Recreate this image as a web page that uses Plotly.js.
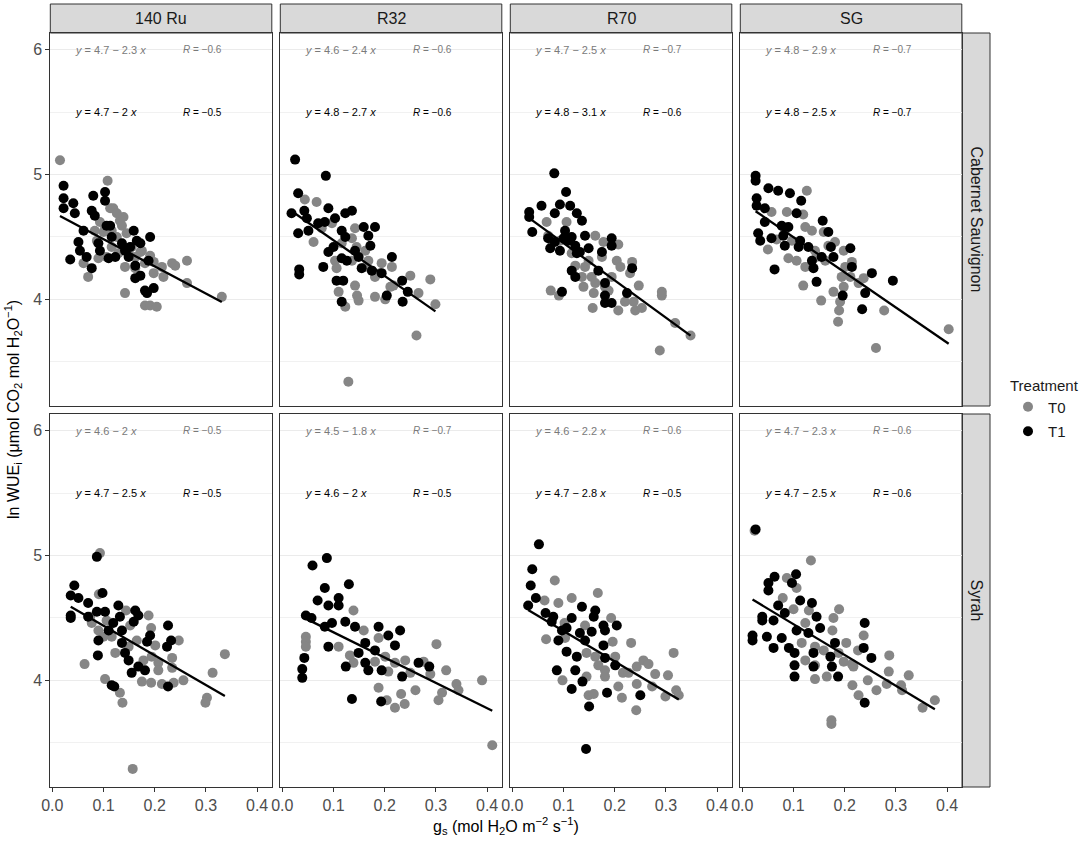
<!DOCTYPE html>
<html>
<head>
<meta charset="utf-8">
<script src="https://cdn.plot.ly/plotly-3.0.1.min.js"></script>
<style>
html,body{margin:0;padding:0;background:#fff;}
#plot{width:1084px;height:841px;}
</style>
</head>
<body>
<div id="plot"></div>
<script>
// ---------------- DATA ----------------
const rootstocks = ['140 Ru', 'R32', 'R70', 'SG'];
const cultivars = ['Cabernet Sauvignon', 'Syrah'];
const treatments = ['T0', 'T1'];
const xTickVals = [0, 0.1, 0.2, 0.3, 0.4];
const xTickText = ['0.0', '0.1', '0.2', '0.3', '0.4'];
const yTickVals = [4, 5, 6];
const yTickText = ['4', '5', '6'];

// Cabernet Sauvignon
const cs_140Ru_T0_x = [0.015,0.108,0.113,0.119,0.132,0.136,0.093,0.100,0.083,0.126,0.145,0.090,0.061,0.070,0.106,0.142,0.142,0.162,0.172,0.191,0.198,0.198,0.217,0.234,0.240,0.263,0.263,0.331,0.181,0.191,0.204,0.149,0.162,0.116,0.129,0.181,0.214,0.175,0.155,0.116,0.087,0.139,0.126,0.103];
const cs_140Ru_T0_y = [5.115,4.95,4.73,4.73,4.63,4.59,4.62,4.54,4.55,4.50,4.53,4.33,4.29,4.18,4.34,4.26,4.05,4.25,4.38,4.35,4.30,4.21,4.18,4.29,4.27,4.31,4.13,4.02,3.95,3.95,3.94,4.39,4.34,4.55,4.37,4.29,4.26,4.39,4.42,4.42,4.47,4.66,4.69,4.58];
const cs_140Ru_T1_x = [0.022,0.022,0.022,0.041,0.044,0.080,0.103,0.103,0.077,0.083,0.106,0.113,0.061,0.051,0.054,0.035,0.067,0.077,0.093,0.110,0.123,0.136,0.159,0.165,0.172,0.152,0.149,0.162,0.191,0.162,0.172,0.181,0.185,0.198,0.142,0.116,0.090,0.188];
const cs_140Ru_T1_y = [4.91,4.81,4.73,4.77,4.69,4.83,4.86,4.79,4.71,4.67,4.59,4.59,4.55,4.46,4.39,4.32,4.34,4.25,4.39,4.33,4.34,4.45,4.55,4.47,4.45,4.42,4.34,4.27,4.50,4.17,4.19,4.07,4.05,4.09,4.39,4.50,4.45,4.31];

const cs_R32_T0_x = [0.044,0.067,0.061,0.077,0.097,0.142,0.136,0.103,0.106,0.162,0.145,0.110,0.123,0.142,0.146,0.149,0.181,0.201,0.194,0.191,0.214,0.211,0.250,0.266,0.289,0.299,0.262,0.129,0.136,0.116,0.168,0.175,0.217,0.181,0.162];
const cs_R32_T0_y = [4.80,4.78,4.46,4.57,4.61,4.57,4.49,4.31,4.25,4.39,4.42,4.06,3.94,4.11,4.03,3.99,4.02,4.00,4.29,4.21,4.26,4.10,4.19,4.05,4.16,3.96,3.71,3.34,4.31,4.45,4.31,4.23,4.11,4.18,4.26];
const cs_R32_T1_x = [0.025,0.085,0.031,0.018,0.043,0.048,0.031,0.051,0.090,0.083,0.103,0.123,0.136,0.116,0.123,0.159,0.181,0.168,0.172,0.090,0.100,0.080,0.033,0.033,0.116,0.126,0.149,0.155,0.175,0.194,0.214,0.106,0.119,0.116,0.204,0.234,0.245,0.235,0.142,0.070];
const cs_R32_T1_y = [5.12,4.99,4.85,4.69,4.71,4.65,4.53,4.55,4.73,4.62,4.65,4.69,4.71,4.55,4.50,4.58,4.58,4.51,4.43,4.38,4.42,4.26,4.24,4.20,4.33,4.31,4.34,4.25,4.23,4.21,4.34,4.15,4.15,3.98,4.03,4.15,4.06,3.98,4.39,4.61];

const cs_R70_T0_x = [0.067,0.070,0.106,0.077,0.093,0.162,0.178,0.207,0.175,0.204,0.234,0.211,0.230,0.123,0.136,0.142,0.155,0.139,0.159,0.162,0.181,0.188,0.157,0.207,0.220,0.237,0.240,0.253,0.247,0.292,0.292,0.318,0.348,0.288,0.075,0.091,0.116,0.149,0.194];
const cs_R70_T0_y = [4.62,4.51,4.62,4.47,4.47,4.51,4.46,4.44,4.34,4.31,4.30,4.26,4.21,4.27,4.18,4.26,4.18,4.10,4.05,4.13,4.10,4.07,3.93,3.91,3.98,3.98,3.91,3.93,4.11,4.06,4.03,3.81,3.71,3.59,4.07,4.03,4.37,4.31,4.18];
const cs_R70_T1_x = [0.082,0.105,0.057,0.093,0.113,0.033,0.033,0.083,0.126,0.136,0.039,0.070,0.083,0.100,0.116,0.123,0.093,0.074,0.132,0.142,0.194,0.194,0.175,0.116,0.123,0.168,0.181,0.181,0.181,0.194,0.234,0.224,0.097,0.110,0.126,0.103,0.149];
const cs_R70_T1_y = [5.01,4.86,4.75,4.76,4.75,4.70,4.66,4.69,4.69,4.63,4.54,4.49,4.46,4.49,4.50,4.43,4.39,4.41,4.38,4.51,4.49,4.43,4.38,4.23,4.18,4.23,4.13,4.03,3.97,3.97,4.25,4.05,4.06,4.47,4.37,4.55,4.41];

const cs_SG_T0_x = [0.126,0.057,0.087,0.119,0.067,0.050,0.097,0.123,0.136,0.159,0.090,0.106,0.123,0.145,0.162,0.181,0.198,0.214,0.201,0.194,0.211,0.227,0.237,0.119,0.154,0.178,0.198,0.191,0.189,0.187,0.277,0.403,0.261,0.142,0.168,0.083];
const cs_SG_T0_y = [4.87,4.70,4.70,4.68,4.48,4.40,4.47,4.58,4.55,4.54,4.33,4.31,4.26,4.34,4.31,4.46,4.39,4.30,4.26,4.18,4.18,4.13,4.17,4.11,3.99,4.06,4.10,3.98,3.91,3.82,3.91,3.76,3.61,4.39,4.43,4.55];
const cs_SG_T1_x = [0.026,0.026,0.051,0.070,0.093,0.115,0.028,0.028,0.044,0.044,0.031,0.035,0.057,0.077,0.080,0.090,0.106,0.083,0.110,0.113,0.129,0.136,0.139,0.157,0.168,0.173,0.178,0.211,0.214,0.145,0.063,0.196,0.253,0.240,0.294,0.234,0.155];
const cs_SG_T1_y = [4.99,4.95,4.89,4.87,4.85,4.79,4.81,4.75,4.73,4.62,4.53,4.47,4.49,4.59,4.51,4.58,4.69,4.43,4.42,4.47,4.42,4.31,4.25,4.63,4.54,4.42,4.34,4.41,4.26,4.14,4.24,4.03,4.21,4.05,4.15,3.92,4.34];

// Syrah
const sy_140Ru_T0_x = [0.093,0.091,0.074,0.077,0.090,0.100,0.106,0.123,0.063,0.103,0.132,0.137,0.144,0.152,0.188,0.193,0.165,0.201,0.194,0.207,0.234,0.234,0.175,0.193,0.214,0.237,0.256,0.247,0.337,0.313,0.302,0.299,0.157,0.178,0.207,0.116,0.149];
const sy_140Ru_T0_y = [5.02,4.69,4.51,4.46,4.40,4.35,4.48,4.22,4.13,4.01,3.90,3.82,4.56,4.44,4.52,4.42,4.32,4.28,4.19,4.14,4.18,4.10,3.99,3.98,3.97,3.98,4.00,4.32,4.21,4.06,3.86,3.82,3.29,4.16,4.08,4.35,4.27];
const sy_140Ru_T1_x = [0.087,0.043,0.036,0.051,0.070,0.036,0.036,0.098,0.087,0.103,0.129,0.132,0.162,0.168,0.159,0.119,0.090,0.089,0.136,0.142,0.149,0.155,0.168,0.181,0.191,0.185,0.226,0.224,0.232,0.226,0.116,0.121,0.136,0.110,0.070];
const sy_140Ru_T1_y = [4.99,4.76,4.68,4.66,4.62,4.52,4.50,4.70,4.55,4.55,4.60,4.51,4.56,4.52,4.47,4.46,4.32,4.20,4.30,4.22,4.16,4.06,4.11,4.08,4.36,4.31,4.44,4.27,4.32,3.95,3.96,3.95,4.40,4.40,4.51];

const sy_R32_T0_x = [0.139,0.046,0.046,0.046,0.110,0.132,0.139,0.159,0.188,0.181,0.207,0.188,0.204,0.220,0.232,0.239,0.240,0.250,0.260,0.276,0.289,0.301,0.312,0.305,0.320,0.340,0.344,0.390,0.410,0.201,0.220];
const sy_R32_T0_y = [4.56,4.35,4.31,4.27,4.27,4.20,4.14,4.40,4.34,4.15,4.07,3.94,3.84,3.78,3.89,3.81,4.16,4.06,3.92,4.15,4.05,4.29,3.90,3.84,4.08,3.97,3.92,4.00,3.48,4.19,4.14];
const sy_R32_T1_x = [0.087,0.059,0.083,0.130,0.069,0.090,0.110,0.110,0.046,0.057,0.083,0.097,0.123,0.142,0.090,0.043,0.039,0.039,0.124,0.136,0.149,0.162,0.168,0.188,0.207,0.230,0.220,0.194,0.234,0.266,0.287,0.193,0.162,0.181];
const sy_R32_T1_y = [4.98,4.92,4.74,4.77,4.64,4.60,4.66,4.60,4.52,4.50,4.43,4.46,4.47,4.43,4.27,4.18,4.09,4.02,4.11,3.85,4.22,4.14,4.08,4.43,4.36,4.40,4.28,4.08,4.03,4.14,4.11,3.83,4.30,4.24];

const sy_R70_T0_x = [0.083,0.063,0.090,0.116,0.167,0.066,0.103,0.102,0.142,0.193,0.196,0.145,0.162,0.168,0.181,0.181,0.145,0.098,0.149,0.159,0.207,0.214,0.216,0.232,0.243,0.243,0.242,0.256,0.266,0.279,0.273,0.304,0.315,0.299,0.320,0.325,0.201,0.227];
const sy_R70_T0_y = [4.80,4.64,4.62,4.66,4.70,4.33,4.34,4.46,4.44,4.50,4.31,4.22,4.19,4.12,4.08,4.03,4.03,4.00,3.88,3.89,3.95,3.86,4.06,4.30,4.11,3.97,3.76,4.16,4.13,4.05,3.95,4.04,4.22,3.87,3.92,3.88,4.19,4.06];
const sy_R70_T1_x = [0.052,0.039,0.036,0.046,0.031,0.065,0.080,0.077,0.116,0.136,0.162,0.159,0.106,0.090,0.106,0.126,0.087,0.123,0.137,0.116,0.150,0.144,0.178,0.181,0.204,0.155,0.178,0.181,0.201,0.185,0.250,0.142,0.132,0.097];
const sy_R70_T1_y = [5.09,4.89,4.76,4.66,4.60,4.54,4.51,4.47,4.50,4.59,4.56,4.51,4.42,4.32,4.23,4.19,4.08,4.08,3.99,3.93,3.79,3.45,4.44,4.40,4.44,4.39,4.28,4.18,4.12,3.90,3.88,4.32,4.38,4.40];

const sy_SG_T0_x = [0.024,0.134,0.087,0.106,0.079,0.100,0.130,0.123,0.189,0.178,0.176,0.116,0.142,0.159,0.123,0.142,0.142,0.165,0.203,0.198,0.217,0.237,0.226,0.215,0.227,0.245,0.262,0.282,0.287,0.286,0.310,0.325,0.312,0.352,0.376,0.174,0.174,0.214,0.188];
const sy_SG_T0_y = [5.20,4.96,4.82,4.74,4.66,4.57,4.56,4.46,4.57,4.50,4.40,4.30,4.27,4.24,4.16,4.12,4.01,4.03,4.30,4.15,4.11,4.36,4.24,3.96,3.88,4.00,3.92,3.97,4.20,4.07,3.96,4.04,3.92,3.78,3.84,3.68,3.65,4.13,4.22];
const sy_SG_T1_x = [0.026,0.063,0.051,0.051,0.105,0.097,0.070,0.113,0.136,0.039,0.039,0.061,0.083,0.145,0.152,0.106,0.020,0.020,0.048,0.077,0.061,0.091,0.102,0.102,0.102,0.139,0.139,0.172,0.181,0.175,0.187,0.239,0.237,0.252,0.239,0.129];
const sy_SG_T1_y = [5.21,4.83,4.78,4.72,4.85,4.78,4.60,4.64,4.62,4.51,4.48,4.48,4.54,4.51,4.42,4.40,4.36,4.32,4.35,4.34,4.26,4.26,4.22,4.12,4.03,4.22,4.11,4.19,4.30,4.11,4.03,4.46,4.26,4.18,3.82,4.38];

// Equation labels (panel order: CS 140Ru, R32, R70, SG, Syrah 140Ru, R32, R70, SG)
const eqT0_intercept = [4.7, 4.6, 4.7, 4.8, 4.6, 4.5, 4.6, 4.7];
const eqT0_slope     = [2.3, 2.4, 2.5, 2.9, 2, 1.8, 2.2, 2.3];
const eqT0_R         = [0.6, 0.6, 0.7, 0.7, 0.5, 0.7, 0.6, 0.6];
const eqT1_intercept = [4.7, 4.8, 4.8, 4.8, 4.7, 4.6, 4.7, 4.7];
const eqT1_slope     = [2, 2.7, 3.1, 2.5, 2.5, 2, 2.8, 2.5];
const eqT1_R         = [0.5, 0.6, 0.6, 0.7, 0.5, 0.5, 0.5, 0.6];

// Pooled regression line
const fitIntercept = [4.70, 4.76, 4.75, 4.78, 4.676, 4.588, 4.64, 4.697];
const fitSlope     = [-2.18, -2.865, -2.99, -2.82, -2.38, -2.03, -2.44, -2.47];

const panelData = [
  [cs_140Ru_T0_x, cs_140Ru_T0_y, cs_140Ru_T1_x, cs_140Ru_T1_y],
  [cs_R32_T0_x, cs_R32_T0_y, cs_R32_T1_x, cs_R32_T1_y],
  [cs_R70_T0_x, cs_R70_T0_y, cs_R70_T1_x, cs_R70_T1_y],
  [cs_SG_T0_x, cs_SG_T0_y, cs_SG_T1_x, cs_SG_T1_y],
  [sy_140Ru_T0_x, sy_140Ru_T0_y, sy_140Ru_T1_x, sy_140Ru_T1_y],
  [sy_R32_T0_x, sy_R32_T0_y, sy_R32_T1_x, sy_R32_T1_y],
  [sy_R70_T0_x, sy_R70_T0_y, sy_R70_T1_x, sy_R70_T1_y],
  [sy_SG_T0_x, sy_SG_T0_y, sy_SG_T1_x, sy_SG_T1_y]
];

// ---------------- STYLE / LAYOUT ----------------
const W = 1084, H = 841;
const FONT = 'Liberation Sans, Arial, Helvetica, sans-serif';
const colT0 = '#868686', colT1 = '#000000';
const panelLeft0 = 50.3, panelStep = 230, panelW = 221.5;
const rowTop = [33, 414], panelH = 373;
const stripTop = 4, stripRightX0 = 962, stripRightX1 = 990;
const xRange = [-0.0039, 0.4286], yRange = [3.145, 6.135];

const px = v => v / W, py = v => 1 - v / H;

const traces = [];
const layout = {
  width: W, height: H,
  margin: {l: 0, r: 0, t: 0, b: 0},
  paper_bgcolor: '#fff', plot_bgcolor: '#fff',
  font: {family: FONT, color: '#1a1a1a'},
  showlegend: true,
  legend: {
    x: px(1008), y: py(371), xanchor: 'left', yanchor: 'top',
    title: {text: 'Treatment', font: {size: 15, color: '#1a1a1a'}},
    font: {size: 15, color: '#1a1a1a'},
    bgcolor: 'rgba(0,0,0,0)', itemwidth: 30, tracegroupgap: 2
  },
  shapes: [], annotations: []
};

const fmt = v => String(v);
const eqText = (a, b) => '<i>y</i> = ' + fmt(a) + ' \u2212 ' + fmt(b) + ' <i>x</i>';
const rText = r => '<i>R</i> = \u2212' + fmt(r);

for (let k = 0; k < 8; k++) {
  const row = Math.floor(k / 4), col = k % 4;
  const xid = k === 0 ? 'x' : 'x' + (k + 1);
  const yid = k === 0 ? 'y' : 'y' + (k + 1);
  const xKey = k === 0 ? 'xaxis' : 'xaxis' + (k + 1);
  const yKey = k === 0 ? 'yaxis' : 'yaxis' + (k + 1);
  const left = panelLeft0 + panelStep * col;
  const top = rowTop[row];

  layout[xKey] = {
    domain: [px(left), px(left + panelW)], anchor: yid,
    range: xRange, showgrid: false, zeroline: false,
    showline: true, mirror: true, linecolor: '#333333', linewidth: 1,
    tickmode: 'array', tickvals: xTickVals, ticktext: xTickText,
    showticklabels: row === 1, ticks: row === 1 ? 'outside' : '',
    ticklen: 4, tickcolor: '#333333', tickwidth: 1,
    tickfont: {family: FONT, size: 16, color: '#4d4d4d'}
  };
  layout[yKey] = {
    domain: [py(top + panelH), py(top)], anchor: xid,
    range: yRange, zeroline: false,
    showline: true, mirror: true, linecolor: '#333333', linewidth: 1,
    tickmode: 'array', tickvals: yTickVals, ticktext: yTickText,
    showgrid: true, gridcolor: '#ebebeb', gridwidth: 1,
    minor: {tickmode: 'array', tickvals: [3.5, 4.5, 5.5], showgrid: true, gridcolor: '#ededed', gridwidth: 0.8, ticks: ''},
    showticklabels: col === 0, ticks: col === 0 ? 'outside' : '',
    ticklen: 4, tickcolor: '#333333', tickwidth: 1,
    tickfont: {family: FONT, size: 16, color: '#4d4d4d'}
  };

  const [x0, y0, x1, y1] = panelData[k];
  traces.push({
    type: 'scatter', mode: 'markers', x: x0, y: y0, xaxis: xid, yaxis: yid,
    name: treatments[0], legendgroup: 'T0', showlegend: k === 0,
    marker: {color: colT0, size: 10, line: {width: 0}}, hoverinfo: 'skip'
  });
  traces.push({
    type: 'scatter', mode: 'markers', x: x1, y: y1, xaxis: xid, yaxis: yid,
    name: treatments[1], legendgroup: 'T1', showlegend: k === 0,
    marker: {color: colT1, size: 10, line: {width: 0}}, hoverinfo: 'skip'
  });
  const allX = x0.concat(x1);
  const xmin = Math.min(...allX), xmax = Math.max(...allX);
  traces.push({
    type: 'scatter', mode: 'lines', xaxis: xid, yaxis: yid, showlegend: false,
    x: [xmin, xmax], y: [fitIntercept[k] + fitSlope[k] * xmin, fitIntercept[k] + fitSlope[k] * xmax],
    line: {color: '#000', width: 2.3}, hoverinfo: 'skip'
  });

  // equation annotations
  const eqs = [
    {t: eqText(eqT0_intercept[k], eqT0_slope[k]), y: 6, c: '#7a7a7a'},
    {t: eqText(eqT1_intercept[k], eqT1_slope[k]), y: 5.5, c: '#000'}
  ];
  const rs = [
    {t: rText(eqT0_R[k]), y: 6, c: '#7a7a7a'},
    {t: rText(eqT1_R[k]), y: 5.5, c: '#000'}
  ];
  eqs.forEach(e => layout.annotations.push({
    xref: xid, yref: yid, x: 0.041, y: e.y, text: e.t, showarrow: false,
    xanchor: 'left', yanchor: 'middle', font: {family: FONT, size: 11, color: e.c}
  }));
  rs.forEach(e => layout.annotations.push({
    xref: xid, yref: yid, x: 0.251, y: e.y, text: e.t, showarrow: false,
    xanchor: 'left', yanchor: 'middle', font: {family: FONT, size: 10, color: e.c}
  }));
}

// strips on top
for (let c = 0; c < 4; c++) {
  const left = panelLeft0 + panelStep * c;
  layout.shapes.push({type: 'rect', xref: 'paper', yref: 'paper',
    x0: px(left), x1: px(left + panelW), y0: py(rowTop[0]), y1: py(stripTop),
    fillcolor: '#d9d9d9', line: {color: '#333333', width: 1}, layer: 'below'});
  layout.annotations.push({xref: 'paper', yref: 'paper', x: px(left + panelW / 2), y: py((stripTop + rowTop[0]) / 2),
    text: rootstocks[c], showarrow: false, xanchor: 'center', yanchor: 'middle',
    font: {family: FONT, size: 16, color: '#1a1a1a'}});
}
// strips on right
for (let r = 0; r < 2; r++) {
  layout.shapes.push({type: 'rect', xref: 'paper', yref: 'paper',
    x0: px(stripRightX0), x1: px(stripRightX1), y0: py(rowTop[r] + panelH), y1: py(rowTop[r]),
    fillcolor: '#d9d9d9', line: {color: '#333333', width: 1}, layer: 'below'});
  layout.annotations.push({xref: 'paper', yref: 'paper', x: px((stripRightX0 + stripRightX1) / 2), y: py(rowTop[r] + panelH / 2),
    text: cultivars[r], showarrow: false, textangle: 90, xanchor: 'center', yanchor: 'middle',
    font: {family: FONT, size: 16, color: '#1a1a1a'}});
}

// axis titles (shared)
layout.annotations.push({xref: 'paper', yref: 'paper', x: px(506), y: py(826),
  text: 'g<sub>s</sub> (mol H<sub>2</sub>O m<sup>\u22122</sup> s<sup>\u22121</sup>)', showarrow: false,
  xanchor: 'center', yanchor: 'middle', font: {family: FONT, size: 16, color: '#000'}});
layout.annotations.push({xref: 'paper', yref: 'paper', x: px(13), y: py(410),
  text: 'ln WUE<sub>i</sub> (\u03bcmol CO<sub>2</sub> mol H<sub>2</sub>O<sup>\u22121</sup>)', showarrow: false,
  textangle: -90, xanchor: 'center', yanchor: 'middle', font: {family: FONT, size: 16, color: '#000'}});

Plotly.newPlot('plot', traces, layout, {staticPlot: true, displayModeBar: false});
</script>
</body>
</html>
